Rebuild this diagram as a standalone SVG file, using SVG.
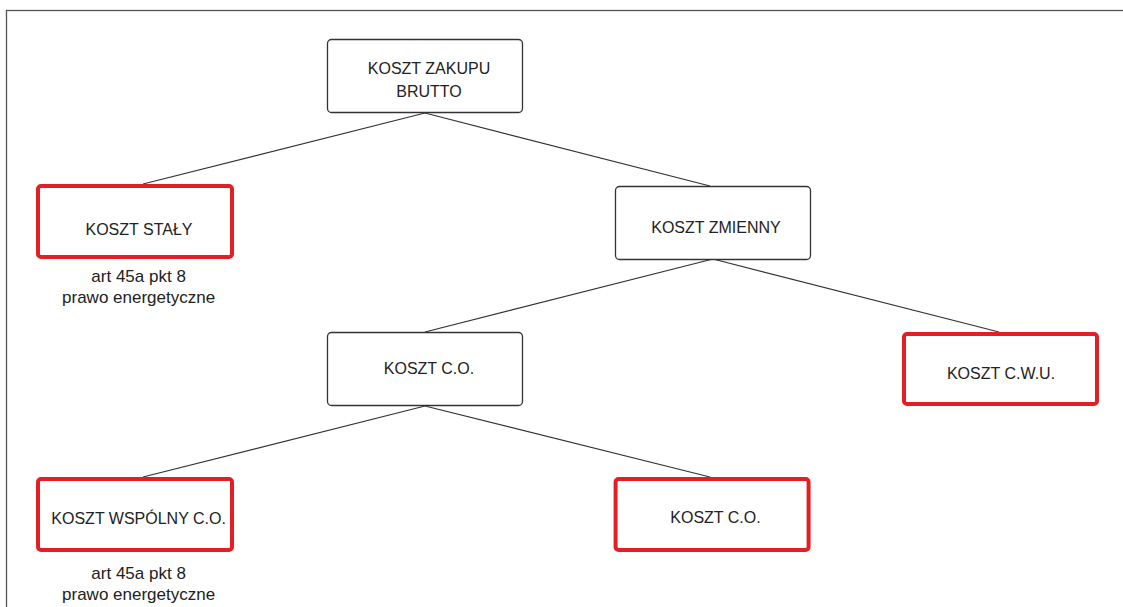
<svg xmlns="http://www.w3.org/2000/svg" width="1123" height="607" viewBox="0 0 1123 607">
  <style>
    .frame { fill: none; stroke: #555; stroke-width: 1.3; }
    .box { fill: #fff; stroke: #333; stroke-width: 1.3; }
    .rbox { fill: #fff; stroke: #e31e24; stroke-width: 4; }
    .lbl { font-family: "Liberation Sans", Arial, sans-serif; font-size: 16px; fill: #222; text-anchor: middle; }
    .note { font-family: "Liberation Sans", Arial, sans-serif; font-size: 17px; fill: #222; text-anchor: middle; }
    .conn line { stroke: #333; stroke-width: 1.2; }
  </style>
  <rect width="1123" height="607" fill="#fff"/>
  <rect class="frame" x="6.5" y="10.5" width="1140" height="640"/>
  <g id="connectors" class="conn">
    <line x1="425" y1="113" x2="143" y2="184"/>
    <line x1="425" y1="113" x2="710" y2="186"/>
    <line x1="713" y1="259" x2="425" y2="332"/>
    <line x1="713" y1="259" x2="999" y2="332"/>
    <line x1="425" y1="406" x2="143" y2="477"/>
    <line x1="425" y1="406" x2="710" y2="477"/>
  </g>
  <g id="n-zakup">
    <rect class="box" x="327.5" y="39.5" width="195" height="73" rx="4"/>
    <text class="lbl" x="429" y="74">KOSZT ZAKUPU</text>
    <text class="lbl" x="429" y="96.5">BRUTTO</text>
  </g>
  <g id="n-staly">
    <rect class="rbox" x="38" y="186" width="194" height="71" rx="3"/>
    <text class="lbl" x="139" y="235">KOSZT STAŁY</text>
    <text class="note" x="138.6" y="282">art 45a pkt 8</text>
    <text class="note" x="138.6" y="303">prawo energetyczne</text>
  </g>
  <g id="n-zmienny">
    <rect class="box" x="615.5" y="186.5" width="195" height="73" rx="4"/>
    <text class="lbl" x="716" y="233">KOSZT ZMIENNY</text>
  </g>
  <g id="n-co">
    <rect class="box" x="327.5" y="332.5" width="195" height="73" rx="4"/>
    <text class="lbl" x="429" y="374">KOSZT C.O.</text>
  </g>
  <g id="n-cwu">
    <rect class="rbox" x="904" y="334" width="193" height="70" rx="3"/>
    <text class="lbl" x="1001" y="379">KOSZT C.W.U.</text>
  </g>
  <g id="n-wspolny">
    <rect class="rbox" x="38" y="479" width="194" height="71" rx="3"/>
    <text class="lbl" x="138.6" y="524">KOSZT WSPÓLNY C.O.</text>
    <text class="note" x="138.6" y="578.5">art 45a pkt 8</text>
    <text class="note" x="138.6" y="600">prawo energetyczne</text>
  </g>
  <g id="n-co2">
    <rect class="rbox" x="615.6" y="479" width="193" height="71" rx="3"/>
    <text class="lbl" x="715.5" y="523">KOSZT C.O.</text>
  </g>
</svg>
